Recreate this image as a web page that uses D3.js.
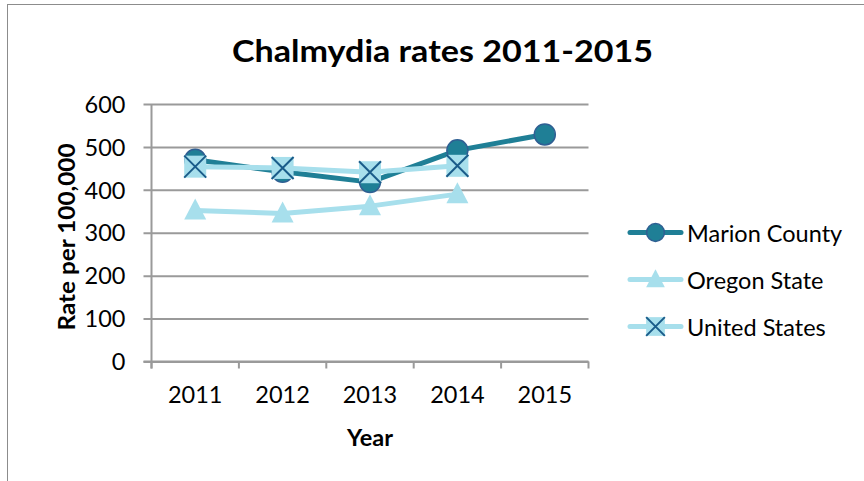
<!DOCTYPE html>
<html>
<head>
<meta charset="utf-8">
<script src="https://cdn.jsdelivr.net/npm/d3@7/dist/d3.min.js"></script>
<style>
  html, body { margin: 0; padding: 0; background: #fff; }
  svg { display: block; }
  text { font-family: Lato, "Open Sans", sans-serif; fill: #000; }
</style>
</head>
<body>
<svg id="chart" width="864" height="481"></svg>
<script>
// Chlamydia rates per 100,000, by year
const years = ["2011", "2012", "2013", "2014", "2015"];
const marionCounty = [470, 442, 418, 492, 529];
const oregonState = [352, 345, 362, 390, null];
const unitedStates = [454, 451, 441, 456, null];
const yTicks = [0, 100, 200, 300, 400, 500, 600];

const seriesNames = ["Marion County", "Oregon State", "United States"];
const seriesValues = [marionCounty, oregonState, unitedStates];
const seriesStyle = [
  { line: "#1f7f96", marker: "circle" },
  { line: "#a7dfec", marker: "triangle" },
  { line: "#a7dfec", marker: "cross" }
];

const svg = d3.select("#chart");

// outer chart frame
svg.append("rect")
  .attr("x", 7.5).attr("y", 4.5)
  .attr("width", 900).attr("height", 600)
  .attr("fill", "none").attr("stroke", "#8c8c8c").attr("stroke-width", 1);

const plot = { left: 151.5, right: 588.5, top: 104, bottom: 361.5 };
const labelSize = 23.5;

const x = d3.scaleBand().domain(years).range([plot.left, plot.right]);
const y = d3.scaleLinear().domain([0, 600]).range([plot.bottom, plot.top]);

// horizontal gridlines + y ticks
const yAxis = d3.axisLeft(y).tickValues(yTicks).tickSize(-(plot.right - plot.left));
const gy = svg.append("g").attr("transform", `translate(${plot.left},0)`).call(yAxis);
gy.select(".domain").remove();
gy.selectAll(".tick line")
  .attr("x1", -8)
  .attr("stroke", "#9a9a9a").attr("stroke-width", 2);
gy.selectAll(".tick text")
  .attr("font-size", labelSize).attr("font-family", null)
  .attr("dy", "0.35em").attr("x", -26);

// vertical axis line
svg.append("line")
  .attr("x1", plot.left).attr("x2", plot.left)
  .attr("y1", y(600)).attr("y2", plot.bottom + 7)
  .attr("stroke", "#9a9a9a").attr("stroke-width", 2);

// x axis with boundary ticks between categories
svg.append("line")
  .attr("x1", plot.left - 8).attr("x2", plot.right)
  .attr("y1", plot.bottom).attr("y2", plot.bottom)
  .attr("stroke", "#9a9a9a").attr("stroke-width", 2);
const boundaries = years.map(d => x(d)).concat([x(years[years.length - 1]) + x.bandwidth()]);
svg.append("g").selectAll("line").data(boundaries).join("line")
  .attr("x1", d => d).attr("x2", d => d)
  .attr("y1", plot.bottom).attr("y2", plot.bottom + 7)
  .attr("stroke", "#9a9a9a").attr("stroke-width", 2);
svg.append("g").selectAll("text").data(years).join("text")
  .attr("x", d => x(d) + x.bandwidth() / 2)
  .attr("y", 403)
  .attr("text-anchor", "middle")
  .attr("font-size", labelSize)
  .text(d => d);

// titles
svg.append("text")
  .attr("x", 442.5).attr("y", 62)
  .attr("text-anchor", "middle")
  .attr("font-family", "'Open Sans', Lato, sans-serif")
  .attr("font-size", 30).attr("font-weight", "bold")
  .attr("textLength", 421).attr("lengthAdjust", "spacingAndGlyphs")
  .text("Chalmydia rates 2011-2015");
svg.append("text")
  .attr("x", 370).attr("y", 446)
  .attr("text-anchor", "middle")
  .attr("font-size", labelSize).attr("font-weight", "bold")
  .text("Year");
svg.append("text")
  .attr("transform", "translate(75,237) rotate(-90)")
  .attr("text-anchor", "middle")
  .attr("font-size", labelSize).attr("font-weight", "bold")
  .attr("textLength", 187).attr("lengthAdjust", "spacingAndGlyphs")
  .text("Rate per 100,000");

function drawMarker(g, type, cx, cy, scale) {
  const k = scale || 1;
  if (type === "circle") {
    g.append("circle").attr("cx", cx).attr("cy", cy).attr("r", 10.5 * k)
      .attr("fill", "#1f7f96").attr("stroke", "#2f5f93").attr("stroke-width", 1.5);
  } else if (type === "triangle") {
    g.append("path")
      .attr("d", `M${cx},${cy - 12 * k}L${cx + 11 * k},${cy + 9 * k}L${cx - 11 * k},${cy + 9 * k}Z`)
      .attr("fill", "#a7dfec");
  } else {
    const s = 11 * k;
    g.append("rect").attr("x", cx - s).attr("y", cy - s).attr("width", 2 * s).attr("height", 2 * s)
      .attr("fill", "#a7dfec");
    g.append("path")
      .attr("d", `M${cx - s},${cy - s}L${cx + s},${cy + s}M${cx + s},${cy - s}L${cx - s},${cy + s}`)
      .attr("stroke", "#1a5c8a").attr("stroke-width", 2);
  }
}

const cxOf = d => x(d) + x.bandwidth() / 2;

seriesValues.forEach((vals, i) => {
  const pts = years.map((yr, j) => ({ yr, v: vals[j] })).filter(p => p.v != null);
  const g = svg.append("g");
  const line = d3.line().x(p => cxOf(p.yr)).y(p => y(p.v));
  g.append("path").datum(pts).attr("d", line)
    .attr("fill", "none").attr("stroke", seriesStyle[i].line)
    .attr("stroke-width", 5).attr("stroke-linejoin", "round").attr("stroke-linecap", "round");
  pts.forEach(p => drawMarker(g, seriesStyle[i].marker, cxOf(p.yr), y(p.v)));
});

// legend
const legendY = [232.5, 279.5, 326.5];
seriesNames.forEach((name, i) => {
  const g = svg.append("g");
  g.append("line").attr("x1", 630).attr("x2", 681)
    .attr("y1", legendY[i]).attr("y2", legendY[i])
    .attr("stroke", seriesStyle[i].line).attr("stroke-width", 5).attr("stroke-linecap", "round");
  drawMarker(g, seriesStyle[i].marker, 655.5, legendY[i], 0.85);
  g.append("text").attr("x", 687).attr("y", legendY[i] + 9)
    .attr("font-size", labelSize).text(name);
});
</script>
</body>
</html>
